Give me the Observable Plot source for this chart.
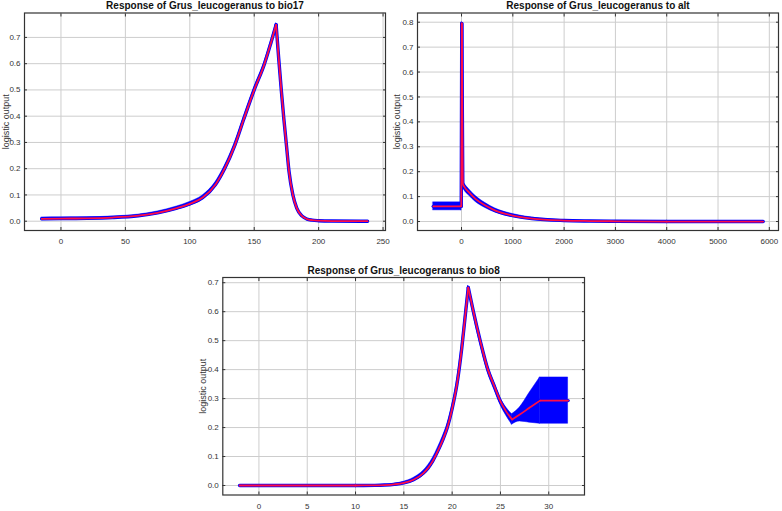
<!DOCTYPE html>
<html><head><meta charset="utf-8">
<script src="https://cdn.jsdelivr.net/npm/d3@7"></script>
<script src="https://cdn.jsdelivr.net/npm/@observablehq/plot@0.6"></script>
<style>
html,body{margin:0;padding:0;background:#fff;}
#root{position:relative;width:782px;height:511px;overflow:hidden;font-family:"Liberation Sans",Arial,sans-serif;}
.panel{position:absolute;}
.panel svg{display:block;}
</style></head><body><div id="root"></div>
<script>
const titles = ["Response of Grus_leucogeranus to bio17", "Response of Grus_leucogeranus to alt", "Response of Grus_leucogeranus to bio8"];
const yLabel = "logistic output";

// ---- bio17 ----
const x17 = [-15, 0, 20, 40, 60, 75, 90, 100, 110, 120, 127, 135, 142, 150, 158, 163, 167, 169, 171, 173, 175, 177, 180, 183, 187, 191, 195, 200, 210, 238];
const mean17 = [0.009, 0.010, 0.011, 0.014, 0.021, 0.032, 0.050, 0.066, 0.090, 0.140, 0.200, 0.290, 0.390, 0.500, 0.600, 0.680, 0.748, 0.620, 0.500, 0.390, 0.290, 0.190, 0.100, 0.050, 0.020, 0.008, 0.004, 0.002, 0.0005, 0.0];
const sd17 = [0.005, 0.005, 0.004, 0.004, 0.004, 0.005, 0.006, 0.007, 0.008, 0.009, 0.010, 0.010, 0.010, 0.010, 0.008, 0.006, 0.005, 0.004, 0.004, 0.004, 0.004, 0.004, 0.003, 0.003, 0.002, 0.001, 0.001, 0.001, 0, 0];
const xTicks17 = [0, 50, 100, 150, 200, 250];
const yTicks17 = [0, 0.1, 0.2, 0.3, 0.4, 0.5, 0.6, 0.7];

// ---- alt ----
const xAlt = [-550, -5, 5, 25, 60, 143, 272, 466, 660, 1000, 1370, 2000, 2500, 3000, 4000, 5000, 5880];
const meanAlt = [0.061, 0.061, 0.795, 0.152, 0.138, 0.118, 0.091, 0.064, 0.044, 0.024, 0.012, 0.004, 0.002, 0.001, 0.0, 0.0, 0.0];
const sdAlt = [0.016, 0.016, 0.004, 0.014, 0.014, 0.013, 0.012, 0.010, 0.008, 0.006, 0.004, 0.002, 0.001, 0.0005, 0, 0, 0];
const xTicksAlt = [0, 1000, 2000, 3000, 4000, 5000, 6000];
const yTicksAlt = [0, 0.1, 0.2, 0.3, 0.4, 0.5, 0.6, 0.7, 0.8];

// ---- bio8 ----
const x8 = [-2, 0, 5, 10, 12, 13, 14, 15, 16, 17, 17.5, 18, 18.5, 19, 19.5, 20, 20.5, 21, 21.4, 21.67, 22.2, 22.9, 23.7, 24.4, 25, 25.6, 26.2, 27, 28, 29.1, 30, 31, 32];
const mean8 = [0, 0, 0, 0, 0.0005, 0.0015, 0.004, 0.009, 0.02, 0.042, 0.06, 0.085, 0.118, 0.155, 0.20, 0.265, 0.35, 0.475, 0.60, 0.683, 0.60, 0.50, 0.40, 0.34, 0.29, 0.255, 0.228, 0.245, 0.268, 0.293, 0.293, 0.293, 0.293];
const sd8 = [0, 0, 0, 0, 0.0005, 0.001, 0.002, 0.004, 0.006, 0.008, 0.009, 0.010, 0.011, 0.012, 0.012, 0.012, 0.012, 0.012, 0.010, 0.006, 0.010, 0.012, 0.012, 0.012, 0.012, 0.014, 0.018, 0.024, 0.051, 0.080, 0.080, 0.080, 0.080];
const xTicks8 = [0, 5, 10, 15, 20, 25, 30];
const yTicks8 = [0, 0.1, 0.2, 0.3, 0.4, 0.5, 0.6, 0.7];

const BLUE = "#0000ff", RED = "#ff0d45", FONT = "'Liberation Sans', Arial, sans-serif";

// split the series into monotonic runs so peaks / corners stay sharp while each run is smooth
function rowsOf(xs, mean, sd) {
  const rows = [];
  let seg = 0;
  const sign = i => Math.sign(mean[i + 1] - mean[i]);
  for (let i = 0; i < xs.length; i++) {
    const r = {x: xs[i], mean: mean[i], lo: mean[i] - sd[i], hi: mean[i] + sd[i]};
    rows.push({...r, seg});
    if (i > 0 && i < xs.length - 1 && sign(i - 1) !== sign(i)) {
      seg++;
      rows.push({...r, seg});
    }
  }
  return rows;
}

function panel(o) {
  const data = rowsOf(o.xs, o.mean, o.sd);
  const curve = "monotone-x";
  const chart = Plot.plot({
    width: o.width, height: o.height,
    marginLeft: o.ml, marginRight: o.mr, marginTop: o.mt, marginBottom: o.mb,
    style: {fontFamily: FONT, fontSize: "8px", color: "#333", background: "transparent", overflow: "visible"},
    x: {domain: o.xDomain, inset: 0, label: null},
    y: {domain: o.yDomain, inset: 0, label: null},
    marks: [
      Plot.gridX(o.xTicks, {stroke: "#cdcdcd", strokeOpacity: 1, strokeWidth: 1}),
      Plot.gridY(o.yTicks, {stroke: "#cdcdcd", strokeOpacity: 1, strokeWidth: 1}),
      Plot.areaY(data, {x: "x", y1: "lo", y2: "hi", z: "seg", fill: BLUE, stroke: BLUE, strokeWidth: 0.5, curve}),
      Plot.line(data, {x: "x", y: "mean", z: "seg", stroke: BLUE, strokeWidth: 3.4, curve}),
      Plot.line(data, {x: "x", y: "mean", z: "seg", stroke: RED, strokeWidth: 1.8, curve}),
      Plot.frame({stroke: "#333", strokeWidth: 1.2}),
      Plot.axisX(o.xTicks, {anchor: "bottom", tickSize: -3, fill: "none", stroke: "#333", label: null}),
      Plot.axisX(o.xTicks, {anchor: "top", tickSize: -3, fill: "none", stroke: "#333", label: null}),
      Plot.axisY(o.yTicks, {anchor: "left", tickSize: -3, fill: "none", stroke: "#333", label: null}),
      Plot.axisY(o.yTicks, {anchor: "right", tickSize: -3, fill: "none", stroke: "#333", label: null}),
      Plot.axisX(o.xTicks, {anchor: "bottom", tickSize: 0, tickPadding: 8, tickFormat: d3.format("d"), label: null, fontSize: 8, fill: "#333"}),
      Plot.axisY(o.yTicks, {anchor: "left", tickSize: 0, tickPadding: 4, tickFormat: d3.format(".1f"), label: null, fontSize: 8, fill: "#333"}),
      Plot.text([yLabel], {frameAnchor: "left", rotate: -90, dx: o.labelX - o.ml, fontSize: 9, textAnchor: "middle", lineAnchor: "middle", fill: "#333"}),
      Plot.text([o.title], {frameAnchor: "top", dy: -3.8, lineAnchor: "bottom", fontWeight: "bold", fontSize: 10, fill: "#111"})
    ]
  });
  const div = document.createElement("div");
  div.className = "panel";
  div.style.left = o.left + "px";
  div.style.top = o.top + "px";
  div.appendChild(chart);
  document.getElementById("root").appendChild(div);
}

panel({title: titles[0], xs: x17, mean: mean17, sd: sd17, xTicks: xTicks17, yTicks: yTicks17,
  xDomain: [-28.3, 251.9], yDomain: [-0.0354, 0.793],
  left: 0, top: 0, width: 390, height: 252, ml: 24, mr: 5, mt: 12.5, mb: 22, labelX: 5.5});

panel({title: titles[1], xs: xAlt, mean: meanAlt, sd: sdAlt, xTicks: xTicksAlt, yTicks: yTicksAlt,
  xDomain: [-858, 6179], yDomain: [-0.036, 0.837],
  left: 390, top: 0, width: 392, height: 252, ml: 27, mr: 4, mt: 12.5, mb: 22, labelX: 6.7});

panel({title: titles[2], xs: x8, mean: mean8, sd: sd8, xTicks: xTicks8, yTicks: yTicks8,
  xDomain: [-3.74, 33.7], yDomain: [-0.0328, 0.718],
  left: 196, top: 255, width: 392, height: 256, ml: 26.3, mr: 4, mt: 22, mb: 16.5, labelX: 6.7});
</script>
</body></html>
